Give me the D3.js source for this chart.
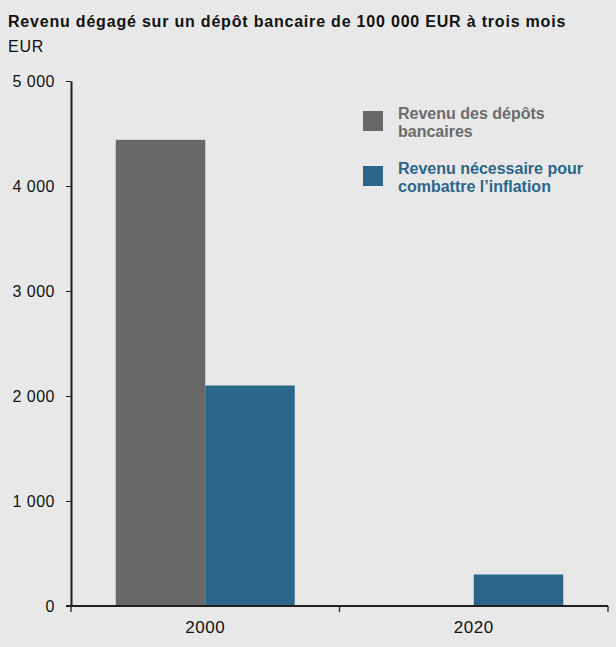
<!DOCTYPE html>
<html><head><meta charset="utf-8">
<script src="https://cdn.jsdelivr.net/npm/d3@7"></script>
<style>body{margin:0;background:#e8e8e8;} svg{display:block;font-family:"Liberation Sans",Arial,sans-serif;}</style>
</head><body>
<svg id="c" width="616" height="647"></svg>
<script>
const categories = ["2000", "2020"];
const seriesNames = ["Revenu des dépôts bancaires", "Revenu nécessaire pour combattre l’inflation"];
const depositIncome = [4440, 0];
const inflationNeed = [2100, 300];
const yTicks = [0, 1000, 2000, 3000, 4000, 5000];
const colors = ["#686868", "#2a6689"];
const legendLines = [["Revenu des dépôts", "bancaires"], ["Revenu nécessaire pour", "combattre l’inflation"]];
const legendTextColors = ["#6b6b6b", "#2a6689"];

(function () {
const svg = d3.select("#c");
svg.append("rect").attr("width", 616).attr("height", 647).attr("fill", "#e8e8e8");

svg.append("text").attr("x", 8).attr("y", 27).attr("font-size", 16).attr("font-weight", "bold")
  .attr("letter-spacing", 0.8).attr("fill", "#111")
  .text("Revenu dégagé sur un dépôt bancaire de 100 000 EUR à trois mois");
svg.append("text").attr("x", 8).attr("y", 52).attr("font-size", 16).attr("letter-spacing", 0.8)
  .attr("fill", "#111").text("EUR");

const mLeft = 71, mRight = 608, mTop = 81, mBottom = 606;
const y = d3.scaleLinear().domain([0, 5000]).range([mBottom, mTop]);
const x0 = d3.scaleBand().domain(categories).range([mLeft, mRight]).padding(0);
const x1 = d3.scaleBand().domain([0, 1]).range([0, x0.bandwidth()]).paddingInner(0).paddingOuter(0.5);

const data = categories.map((c, i) => ({cat: c, vals: [depositIncome[i], inflationNeed[i]]}));
const g = svg.append("g");
data.forEach(d => {
  d.vals.forEach((v, s) => {
    if (v <= 0) return;
    g.append("rect")
      .attr("x", x0(d.cat) + x1(s))
      .attr("y", y(v))
      .attr("width", x1.bandwidth())
      .attr("height", y(0) - y(v))
      .attr("fill", colors[s]);
  });
});

const fmt = v => d3.format(",")(v).replace(/,/g, " ");
const yAxis = svg.append("g").attr("transform", `translate(${mLeft},0)`)
  .call(d3.axisLeft(y).tickValues(yTicks).tickFormat(fmt).tickSize(5).tickSizeOuter(0).tickPadding(11));
yAxis.select(".domain").attr("stroke", "#231f20").attr("stroke-width", 2);
yAxis.selectAll(".tick line").attr("stroke", "#231f20").attr("stroke-width", 1);
yAxis.selectAll(".tick text").attr("font-size", 16).attr("letter-spacing", 0.5).attr("fill", "#111")
  .attr("font-family", "Liberation Sans, Arial, sans-serif");

const xAxis = svg.append("g").attr("transform", `translate(0,${mBottom})`);
xAxis.append("line").attr("x1", mLeft - 5).attr("x2", mRight).attr("y1", 0).attr("y2", 0)
  .attr("stroke", "#231f20").attr("stroke-width", 2);
const boundaries = categories.map(c => x0(c)).concat([x0(categories[categories.length - 1]) + x0.bandwidth()]);
xAxis.selectAll("line.tk").data(boundaries).join("line").attr("class", "tk")
  .attr("x1", d => d).attr("x2", d => d).attr("y1", 0).attr("y2", 6)
  .attr("stroke", "#231f20").attr("stroke-width", 1.3);
xAxis.selectAll("text.lbl").data(categories).join("text").attr("class", "lbl")
  .attr("x", d => x0(d) + x0.bandwidth() / 2).attr("y", 27)
  .attr("text-anchor", "middle").attr("font-size", 17).attr("letter-spacing", 0.6).attr("fill", "#111").text(d => d);

const lg = svg.append("g");
legendLines.forEach((lines, i) => {
  const yy = 111 + i * 55;
  lg.append("rect").attr("x", 363).attr("y", yy).attr("width", 20).attr("height", 20).attr("fill", colors[i]);
  lines.forEach((t, j) => {
    lg.append("text").attr("x", 398).attr("y", yy + 8 + j * 18).attr("font-size", 16).attr("font-weight", "bold")
      .attr("fill", legendTextColors[i]).text(t);
  });
});
})();
</script>
</body></html>
